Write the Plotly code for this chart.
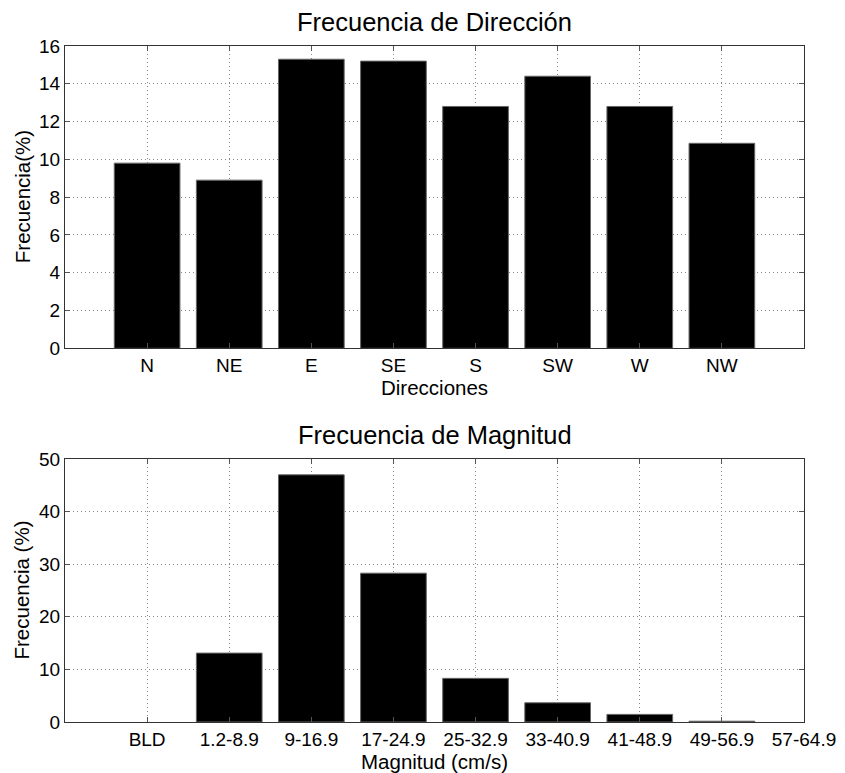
import plotly.graph_objects as go
from plotly.subplots import make_subplots

dir_labels = ["N", "NE", "E", "SE", "S", "SW", "W", "NW"]
dir_freq = [9.8, 8.9, 15.3, 15.2, 12.8, 14.4, 12.8, 10.85]

mag_labels = ["BLD", "1.2-8.9", "9-16.9", "17-24.9", "25-32.9", "33-40.9",
              "41-48.9", "49-56.9", "57-64.9"]
mag_freq = [0, 13.1, 47.0, 28.3, 8.3, 3.65, 1.45, 0.15, 0]

FONT = "Liberation Sans, Arial, sans-serif"

fig = make_subplots(rows=2, cols=1)
fig.add_trace(go.Bar(x=dir_labels, y=dir_freq, width=0.8,
                     marker=dict(color="black", line=dict(color="#666", width=1))),
              row=1, col=1)
fig.add_trace(go.Bar(x=mag_labels, y=mag_freq, width=0.8,
                     marker=dict(color="black",
                                 line=dict(color="#666",
                                           width=[0 if v == 0 else 1 for v in mag_freq]))),
              row=2, col=1)

axis_common = dict(showline=True, linecolor="#333", linewidth=1, mirror="ticks",
                   ticks="inside", ticklen=5, tickcolor="#555",
                   showgrid=True, gridcolor="#888", griddash="1px,3px", gridwidth=1,
                   zeroline=False, automargin=False,
                   tickfont=dict(family=FONT, size=19, color="black"))

fig.update_xaxes(**axis_common)
fig.update_yaxes(**axis_common)

fig.update_layout(
    width=845, height=773,
    margin=dict(l=65, r=41, t=46, b=51),
    plot_bgcolor="white", paper_bgcolor="white",
    showlegend=False,
    font=dict(family=FONT, color="black"),
    xaxis=dict(domain=[0, 1], type="category", range=[-1, 8]),
    yaxis=dict(domain=[0.5528, 1], range=[0, 16], dtick=2),
    xaxis2=dict(domain=[0, 1], type="category", range=[-1, 8]),
    yaxis2=dict(domain=[0, 0.389], range=[0, 50], dtick=10),
)

fig.add_annotation(text="Frecuencia de Dirección", xref="paper", yref="paper",
                   x=0.5, y=1, yshift=8, xanchor="center", yanchor="bottom",
                   font=dict(family=FONT, size=25.5, color="black"), showarrow=False)
fig.add_annotation(text="Frecuencia de Magnitud", xref="paper", yref="paper",
                   x=0.5, y=0.389, yshift=8, xanchor="center", yanchor="bottom",
                   font=dict(family=FONT, size=25.5, color="black"), showarrow=False)
fig.add_annotation(text="Direcciones", xref="paper", yref="paper",
                   x=0.5, y=0.5528, xanchor="center", yanchor="top", yshift=-26,
                   font=dict(family=FONT, size=20.5, color="black"), showarrow=False)
fig.add_annotation(text="Magnitud (cm/s)", xref="paper", yref="paper",
                   x=0.5, y=0, xanchor="center", yanchor="top", yshift=-26,
                   font=dict(family=FONT, size=20.5, color="black"), showarrow=False)
fig.add_annotation(text="Frecuencia(%)", xref="paper", yref="paper",
                   x=0, xshift=-43, y=(0.5528 + 1) / 2, xanchor="center", yanchor="middle",
                   textangle=-90, font=dict(family=FONT, size=20.5, color="black"),
                   showarrow=False)
fig.add_annotation(text="Frecuencia (%)", xref="paper", yref="paper",
                   x=0, xshift=-43, y=0.389 / 2, xanchor="center", yanchor="middle",
                   textangle=-90, font=dict(family=FONT, size=20.5, color="black"),
                   showarrow=False)

fig.write_html("out.html", config={"displayModeBar": False},
               post_script="document.body.style.margin='0';document.body.style.padding='0';")
